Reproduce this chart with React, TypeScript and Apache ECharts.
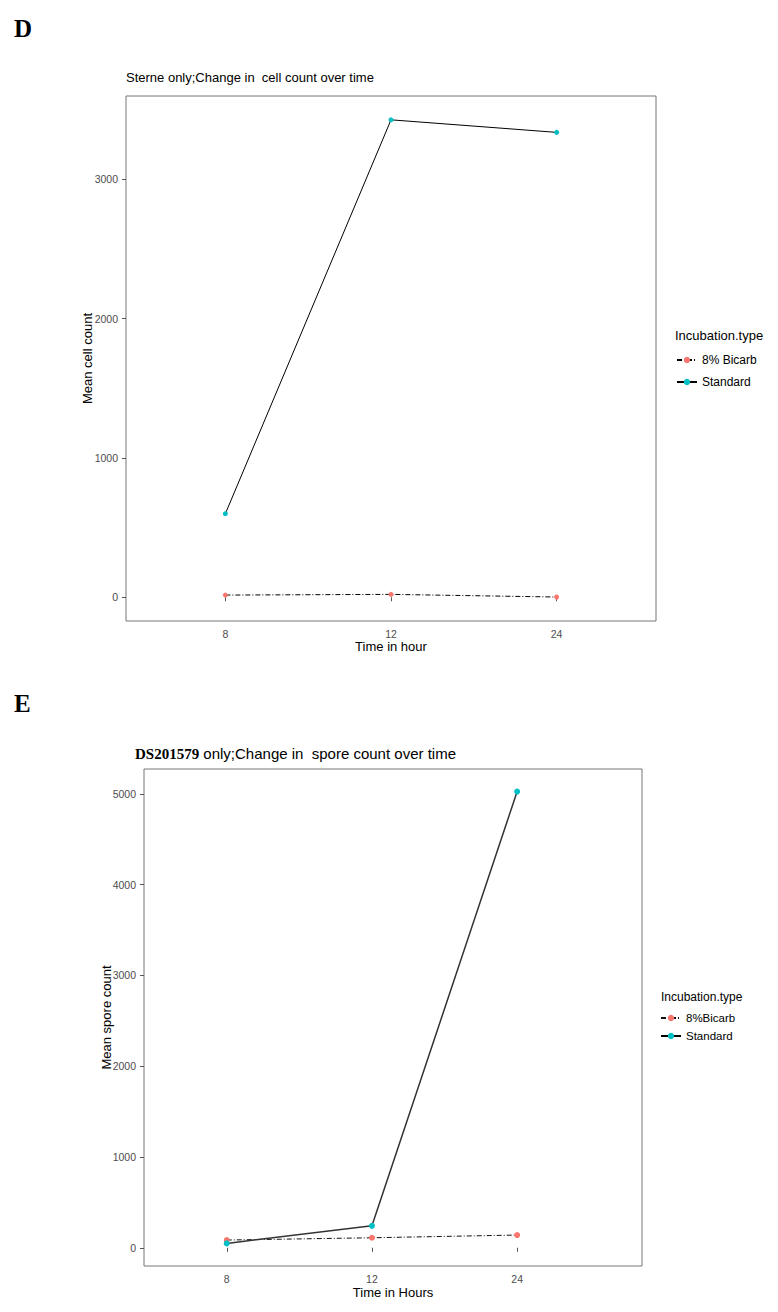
import React, { useEffect, useRef } from "react";
import * as echarts from "echarts";

const timeLabels = ["8", "12", "24"];

// Panel D: Sterne, mean cell count
const dBicarb = [16, 21, 2];
const dStandard = [600, 3426, 3336];
const dYTicks = [0, 1000, 2000, 3000];

// Panel E: DS201579, mean spore count
const eBicarb = [85, 110, 140];
const eStandard = [48, 242, 5024];
const eYTicks = [0, 1000, 2000, 3000, 4000, 5000];

const SANS = "Liberation Sans, Arial, sans-serif";
const SERIF = "Liberation Serif, Times New Roman, serif";
const RED = "#F8766D";
const TEAL = "#00BFC4";

const toPts = (vals: number[]) => vals.map((v, i) => [i + 1, v]);

export default function App() {
  const ref = useRef<HTMLDivElement>(null);
  useEffect(() => {
    if (!ref.current) return;
    const chart = echarts.init(ref.current, null, { renderer: "svg" });

    const xAxisBase = (gridIndex: number, min: number, max: number, name: string, nameGap: number) => ({
      type: "value",
      gridIndex,
      min,
      max,
      name,
      nameLocation: "middle",
      nameGap,
      nameMoveOverlap: false,
      nameTextStyle: { fontFamily: SANS, fontSize: 13, color: "#000" },
      axisLine: { show: false },
      splitLine: { show: false },
      axisTick: { show: true, length: 4, lineStyle: { color: "#555" }, customValues: [1, 2, 3] },
      axisLabel: {
        customValues: [1, 2, 3],
        margin: 7,
        fontFamily: SANS,
        fontSize: 10.5,
        color: "#4D4D4D",
        formatter: (v: number) => timeLabels[Math.round(v) - 1] ?? "",
      },
    });

    const yAxisBase = (gridIndex: number, min: number, max: number, ticks: number[], name: string, nameGap: number) => ({
      type: "value",
      gridIndex,
      min,
      max,
      name,
      nameLocation: "middle",
      nameGap,
      nameMoveOverlap: false,
      nameTextStyle: { fontFamily: SANS, fontSize: 13, color: "#000" },
      axisLine: { show: false },
      splitLine: { show: false },
      axisTick: { show: true, length: 4, lineStyle: { color: "#555" }, customValues: ticks },
      axisLabel: {
        customValues: ticks,
        margin: 8,
        fontFamily: SANS,
        fontSize: 10.5,
        color: "#4D4D4D",
        formatter: (v: number) => String(v),
      },
    });

    const lineSeries = (
      name: string,
      idx: number,
      vals: number[],
      color: string,
      dashed: boolean,
      width: number,
      lineColor: string,
      size: number
    ) => ({
      type: "line",
      name,
      xAxisIndex: idx,
      yAxisIndex: idx,
      data: toPts(vals),
      symbol: "circle",
      symbolSize: size,
      showSymbol: true,
      itemStyle: { color },
      lineStyle: { color: lineColor, width, type: dashed ? [5, 2, 1, 2] : "solid" },
      z: dashed ? 2 : 3,
    });

    chart.setOption({
      animation: false,
      backgroundColor: "#fff",
      title: [
        { text: "D", left: 9, top: 11, textStyle: { fontFamily: SERIF, fontWeight: "bold", fontSize: 25, color: "#000" } },
        { text: "E", left: 9, top: 686, textStyle: { fontFamily: SERIF, fontWeight: "bold", fontSize: 25, color: "#000" } },
        {
          text: "Sterne only;Change in  cell count over time",
          left: 121,
          top: 66,
          textStyle: { fontFamily: SANS, fontWeight: "normal", fontSize: 13, color: "#000" },
        },
        {
          text: "{a|DS201579}{b| only;Change in  spore count over time}",
          left: 130,
          top: 741,
          textStyle: {
            rich: {
              a: { fontFamily: SERIF, fontWeight: "bold", fontSize: 15, color: "#000" },
              b: { fontFamily: SANS, fontWeight: "normal", fontSize: 15, color: "#000" },
            },
          },
        },
        { text: "Incubation.type", left: 670, top: 324, textStyle: { fontFamily: SANS, fontWeight: "normal", fontSize: 13, color: "#000" } },
        { text: "Incubation.type", left: 656, top: 986, textStyle: { fontFamily: SANS, fontWeight: "normal", fontSize: 12, color: "#000" } },
      ],
      legend: [
        {
          orient: "vertical",
          left: 671,
          top: 349,
          itemWidth: 20,
          itemHeight: 8,
          itemGap: 10,
          data: ["8% Bicarb", "Standard"],
          textStyle: { fontFamily: SANS, fontSize: 12, color: "#000" },
        },
        {
          orient: "vertical",
          left: 655,
          top: 1007,
          itemWidth: 20,
          itemHeight: 8,
          itemGap: 6,
          data: ["8%Bicarb", "Standard"],
          textStyle: { fontFamily: SANS, fontSize: 11.5, color: "#000" },
        },
      ],
      grid: [
        { left: 126, top: 96, width: 530, height: 525, show: true, borderColor: "#777", borderWidth: 1, backgroundColor: "transparent" },
        { left: 144, top: 769, width: 498, height: 497, show: true, borderColor: "#777", borderWidth: 1, backgroundColor: "transparent" },
      ],
      xAxis: [
        xAxisBase(0, 0.4, 3.6, "Time in hour", 19),
        xAxisBase(1, 0.43, 3.86, "Time in Hours", 20),
      ],
      yAxis: [
        yAxisBase(0, -170, 3597, dYTicks, "Mean cell count", 32),
        yAxisBase(1, -201, 5273, eYTicks, "Mean spore count", 31),
      ],
      series: [
        lineSeries("8% Bicarb", 0, dBicarb, RED, true, 1, "#000", 5),
        lineSeries("Standard", 0, dStandard, TEAL, false, 1, "#000", 5),
        lineSeries("8%Bicarb", 1, eBicarb, RED, true, 1, "#111", 6),
        lineSeries("Standard", 1, eStandard, TEAL, false, 1.5, "#333", 6),
      ],
    });

    return () => chart.dispose();
  }, []);

  return (
    <div
      ref={ref}
      style={{ position: "absolute", left: 0, top: 0, width: 778, height: 1312, background: "#fff" }}
    />
  );
}
